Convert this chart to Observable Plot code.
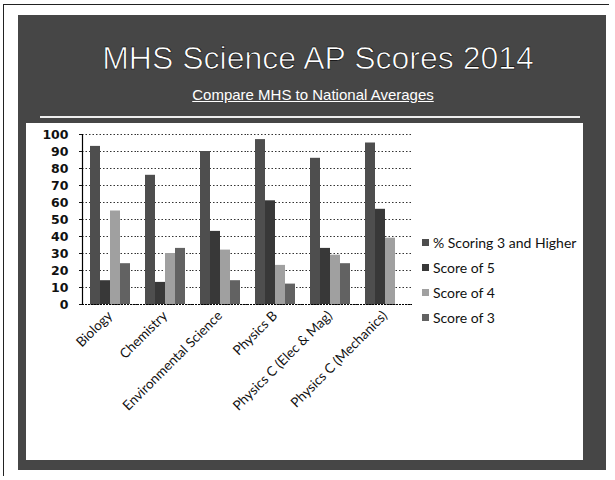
<!DOCTYPE html>
<html>
<head>
<meta charset="utf-8">
<script src="https://cdn.jsdelivr.net/npm/d3@7"></script>
<script src="https://cdn.jsdelivr.net/npm/@observablehq/plot@0.6"></script>
<style>
  html, body { margin: 0; padding: 0; background: #fff; }
  #page { position: relative; width: 615px; height: 480px; overflow: hidden; background: #fff; }
  #border { position: absolute; left: 3px; top: 4px; width: 606px; height: 472px; border-left: 1px solid #222; border-top: 1px solid #222; box-sizing: border-box; }
  #slide { position: absolute; left: 18px; top: 15px; width: 588px; height: 455px; background: #464646; }
  #panel { position: absolute; left: 26px; top: 123px; width: 557px; height: 337px; background: #fff; }
  #title { position: absolute; left: 18px; width: 600px; top: 40px; text-align: center; font-family: "Liberation Sans", Arial, sans-serif; font-size: 32px; line-height: 36px; color: #fff; -webkit-text-stroke: 0.6px #000; }
  #subtitle { position: absolute; left: 18px; width: 590px; top: 86px; text-align: center; font-family: "Liberation Sans", Arial, sans-serif; font-size: 15px; line-height: 17px; color: #fff; text-decoration: underline; }
  #rule { position: absolute; left: 40px; width: 540px; top: 116px; height: 2px; background: #eee; }
  #chart { position: absolute; left: 0; top: 0; }
  #legend { position: absolute; left: 422px; top: 234px; font-family: Lato, "Open Sans", sans-serif; font-size: 14px; line-height: 17px; color: #111; }
  .item { height: 25px; display: flex; align-items: flex-start; }
  .sw { width: 7px; height: 7px; margin: 5px 4px 0 0; }
</style>
</head>
<body>
<div id="page">
  <div id="border"></div>
  <div id="slide"></div>
  <div id="panel"></div>
  <div id="title">MHS Science AP Scores 2014</div>
  <div id="subtitle">Compare MHS to National Averages</div>
  <div id="rule"></div>
  <div id="chart"></div>
  <div id="legend"></div>
</div>
<script>
const categories = ["Biology", "Chemistry", "Environmental Science", "Physics B", "Physics C (Elec & Mag)", "Physics C (Mechanics)"];
const seriesNames = ["% Scoring 3 and Higher", "Score of 5", "Score of 4", "Score of 3"];
const pct3Plus = [93, 76, 90, 97, 86, 95];
const score5   = [14, 13, 43, 61, 33, 56];
const score4   = [55, 30, 32, 23, 29, 39];
const score3   = [24, 33, 14, 12, 24, 0];
const yTicks   = [0, 10, 20, 30, 40, 50, 60, 70, 80, 90, 100];
const colors   = ["#4e4e4e", "#383838", "#a0a0a0", "#626262"];

const valuesBySeries = [pct3Plus, score5, score4, score3];
const data = [];
categories.forEach((c, i) => {
  seriesNames.forEach((s, j) => data.push({category: c, series: s, value: valuesBySeries[j][i]}));
});

const chart = Plot.plot({
  width: 615,
  height: 480,
  marginLeft: 82,
  marginRight: 203,
  marginTop: 134,
  marginBottom: 176,
  style: {background: "transparent", overflow: "visible", color: "#111"},
  fx: {domain: categories, padding: 0, label: null},
  x: {domain: seriesNames, paddingInner: 0, paddingOuter: 0.62, axis: null},
  y: {domain: [0, 100], label: null},
  color: {domain: seriesNames, range: colors},
  marks: [
    Plot.gridY(yTicks, {stroke: "#000", strokeOpacity: 0.8, strokeDasharray: "1.5,2"}),
    Plot.barY(data, {fx: "category", x: "series", y: "value", fill: "series"}),
    Plot.ruleY([0], {stroke: "#000", strokeDasharray: "2,1"}),
    Plot.frame({anchor: "left", facetAnchor: "left", stroke: "#000", strokeWidth: 1.2, strokeDasharray: "2,1"}),
    Plot.axisY(yTicks, {tickSize: 3, tickPadding: 11, fontSize: 12.5, fontFamily: "DejaVu Sans", fontWeight: "bold", label: null}),
    Plot.axisFx({anchor: "bottom", tickRotate: -45, tickSize: 0, tickPadding: 9, fontSize: 13.5, fontFamily: "Lato", label: null})
  ]
});
document.getElementById("chart").appendChild(chart);

const legend = document.getElementById("legend");
seriesNames.forEach((s, j) => {
  const row = document.createElement("div");
  row.className = "item";
  const sw = document.createElement("div");
  sw.className = "sw";
  sw.style.background = colors[j];
  const t = document.createElement("span");
  t.textContent = s;
  row.appendChild(sw);
  row.appendChild(t);
  legend.appendChild(row);
});
</script>
</body>
</html>
